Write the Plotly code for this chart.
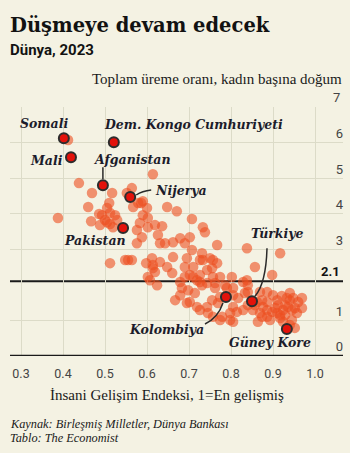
import plotly.graph_objects as go

# Human Development Index vs total fertility rate, 2023
hdi = [
    0.412, 0.614, 0.438, 0.469, 0.460, 0.510, 0.505, 0.493, 0.512, 0.524,
    0.486, 0.467, 0.388, 0.500, 0.529, 0.512, 0.564, 0.552, 0.517, 0.579,
    0.586, 0.590, 0.567, 0.600, 0.648, 0.671, 0.707, 0.590, 0.602, 0.505,
    0.519, 0.583, 0.619, 0.636, 0.602, 0.488, 0.576, 0.588, 0.626, 0.631,
    0.576, 0.733, 0.738, 0.662, 0.679, 0.702, 0.690, 0.643, 0.767, 0.707,
    0.731, 0.726, 0.750, 0.757, 0.767, 0.695, 0.710, 0.662, 0.690, 0.743,
    0.755, 0.512, 0.548, 0.555, 0.564, 0.612, 0.631, 0.614, 0.648, 0.660,
    0.619, 0.690, 0.702, 0.710, 0.726, 0.719, 0.757, 0.726, 0.731, 0.743,
    0.774, 0.762, 0.607, 0.624, 0.679, 0.683, 0.679, 0.667, 0.698, 0.714,
    0.702, 0.719, 0.743, 0.755, 0.769, 0.774, 0.762, 0.786, 0.805, 0.829,
    0.838, 0.840, 0.857, 0.838, 0.898, 0.917, 0.805, 0.817, 0.833, 0.840,
    0.869, 0.886, 0.900, 0.910, 0.912, 0.933, 0.940, 0.948, 0.960, 0.969,
    0.969, 0.952, 0.936, 0.924, 0.929, 0.917, 0.910, 0.898, 0.886, 0.876,
    0.869, 0.852, 0.829, 0.805, 0.798, 0.779, 0.798, 0.774, 0.814, 0.840,
    0.862, 0.886, 0.945, 0.952, 0.940, 0.917, 0.886, 0.745, 0.757, 0.726,
    0.614, 0.598, 0.602, 0.802, 0.790, 0.929, 0.905, 0.945, 0.957, 0.924,
    0.893, 0.874, 0.857, 0.874, 0.921, 0.940, 0.864, 0.805, 0.695, 0.733,
]
tfr = [
    6.07, 5.11, 4.86, 4.58, 4.19, 4.30, 4.16, 3.96, 4.02, 3.96,
    3.99, 3.79, 3.88, 3.82, 3.82, 3.71, 4.72, 4.58, 4.58, 4.30,
    4.30, 4.35, 4.19, 4.16, 4.19, 4.07, 3.85, 3.96, 3.88, 3.76,
    3.62, 3.74, 3.68, 3.65, 3.62, 3.68, 3.54, 3.34, 3.40, 3.17,
    3.17, 3.62, 3.48, 3.20, 3.31, 3.34, 3.17, 3.17, 3.12, 2.98,
    2.89, 2.70, 2.75, 2.70, 2.61, 2.75, 2.50, 2.78, 2.50, 2.42,
    2.47, 2.61, 2.70, 2.70, 2.70, 2.75, 2.64, 2.47, 2.50, 2.33,
    2.36, 2.22, 2.28, 2.22, 2.28, 2.13, 2.22, 2.08, 1.99, 2.05,
    2.22, 2.05, 2.13, 1.99, 2.08, 1.91, 1.71, 1.57, 1.85, 1.77,
    1.52, 1.38, 1.38, 1.57, 1.49, 1.66, 1.91, 1.99, 1.91, 2.08,
    2.13, 1.99, 2.50, 3.03, 2.28, 2.89, 1.71, 1.63, 1.77, 1.80,
    1.80, 1.80, 1.71, 1.57, 1.43, 1.63, 1.57, 1.63, 1.52, 1.63,
    1.35, 1.35, 1.38, 1.29, 1.15, 1.15, 1.21, 1.24, 1.29, 1.38,
    1.21, 1.29, 1.29, 1.38, 1.21, 1.10, 1.01, 1.01, 1.24, 1.43,
    1.52, 1.52, 1.01, 0.79, 0.87, 1.07, 1.10, 1.21, 1.10, 1.29,
    2.56, 2.61, 2.22, 2.22, 1.91, 1.43, 1.35, 1.29, 1.21, 0.96,
    1.01, 1.10, 1.43, 1.57, 1.69, 1.77, 0.96, 0.96, 1.49, 2.70,
]

# Named countries
names = ["Somali", "Dem. Kongo Cumhuriyeti", "Mali", "Afganistan", "Nijerya",
         "Pakistan", "Kolombiya", "Türkiye", "Güney Kore"]
names_hdi = [0.402, 0.521, 0.419, 0.495, 0.560, 0.543, 0.788, 0.850, 0.933]
names_tfr = [6.12, 6.01, 5.59, 4.80, 4.47, 3.60, 1.66, 1.54, 0.76]

# Axis ticks
x_ticks = [0.3, 0.4, 0.5, 0.6, 0.7, 0.8, 0.9, 1.0]
x_ticktext = ["0.3", "0.4", "0.5", "0.6", "0.7", "0.8", "0.9", "1.0"]
y_ticks = [0, 1, 3, 4, 5, 6, 7]
y_ticktext = ["0", "1", "3", "4", "5", "6", "7"]
replacement_rate = 2.1

BG = "#f4f2e3"
GRID = "#dcdbc8"
INK = "#1c1c2b"

# Label placement: (xanchor, xshift, yshift) in pixels relative to the point
label_place = {
    "Somali": ("center", -20, 15),
    "Dem. Kongo Cumhuriyeti": ("left", -12, 18),
    "Mali": ("right", -6, -3),
    "Afganistan": ("left", -11, 26),
    "Nijerya": ("left", 23, 7),
    "Pakistan": ("right", 5, -13),
    "Kolombiya": ("right", -20, -33),
    "Türkiye": ("center", 25, 68),
    "Güney Kore": ("center", -17, -14),
}
# Leader lines drawn in pixel offsets from the point (y up)
leaders = {
    "Afganistan": "M 0 6 L 0 18",
    "Nijerya": "M 6 2 Q 12 6 21 7",
    "Kolombiya": "M -3 -6 Q -8 -21 -21 -27",
    "Türkiye": "M 3 5 Q 14 18 15 53",
}

fig = go.Figure()

fig.add_trace(go.Scatter(
    x=hdi, y=tfr, mode="markers",
    marker=dict(size=10.5, color="rgb(236,78,32)", opacity=0.6, line=dict(width=0)),
    hoverinfo="skip", showlegend=False,
))
fig.add_trace(go.Scatter(
    x=names_hdi, y=names_tfr, mode="markers",
    marker=dict(size=10, color="#e3120b", line=dict(width=2, color="#2d2d2d")),
    text=names, hoverinfo="text", showlegend=False,
))

for n, hx, hy in zip(names, names_hdi, names_tfr):
    xa, xs, ys = label_place[n]
    fig.add_annotation(
        x=hx, y=hy, xref="x", yref="y", text=f"<b><i>{n}</i></b>",
        showarrow=False, xanchor=xa, yanchor="middle", xshift=xs, yshift=ys,
        font=dict(family="DejaVu Serif", size=12.5, color=INK),
    )
    if n in leaders:
        fig.add_shape(
            type="path", xref="x", yref="y", xsizemode="pixel", ysizemode="pixel",
            xanchor=hx, yanchor=hy, path=leaders[n],
            line=dict(color="#2a2a2a", width=1.5),
        )

# Replacement-rate line and baseline
fig.add_shape(type="line", xref="paper", yref="y", x0=0, x1=1,
              y0=replacement_rate, y1=replacement_rate,
              line=dict(color="#1a1a1a", width=2), layer="between")
fig.add_shape(type="line", xref="paper", yref="y", x0=0, x1=1, y0=0, y1=0,
              line=dict(color="#1a1a1a", width=2.5), layer="above")
fig.add_annotation(x=1, xref="paper", y=replacement_rate, yref="y",
                   text="<b>2.1</b>", showarrow=False, xanchor="right",
                   yanchor="bottom", xshift=-1, yshift=0,
                   font=dict(family="Roboto", size=13, color="#111"))
# Top y label sits above the plot frame, so it is placed as an annotation
fig.add_annotation(x=1, xref="paper", y=y_ticks[-1], yref="y",
                   text=y_ticktext[-1], showarrow=False, xanchor="right",
                   yanchor="bottom", xshift=-1, yshift=0,
                   font=dict(family="Roboto", size=13, color="#444"))

W, H = 350, 453
L, R, T, B = 10, 7, 107, 97
pw, ph = W - L - R, H - T - B


def px_x(p):
    return (p - L) / pw


def px_y(p):
    return (H - B - p) / ph


def note(text, xp, yp, xanchor, family, size, color="#1a1a1a"):
    fig.add_annotation(text=text, x=px_x(xp), y=px_y(yp), xref="paper", yref="paper",
                       showarrow=False, xanchor=xanchor, yanchor="middle",
                       font=dict(family=family, size=size, color=color))


# Titles and notes
note("<b>Düşmeye devam edecek</b>", 8, 26, "left", "DejaVu Serif", 19.5, "#121212")
note("<b>Dünya, 2023</b>", 8, 50, "left", "Roboto", 15, "#121212")
note("Toplam üreme oranı, kadın başına doğum", 344, 79, "right", "Liberation Serif", 15)
note("İnsani Gelişim Endeksi, 1=En gelişmiş", 167, 395, "center", "Liberation Serif", 15)
note("<i>Kaynak: Birleşmiş Milletler, Dünya Bankası</i>", 8, 424, "left", "Liberation Serif", 12.3)
note("<i>Tablo: The Economist</i>", 8, 438, "left", "Liberation Serif", 12.3)

fig.update_layout(
    width=W, height=H,
    margin=dict(l=L, r=R, t=T, b=B, pad=0),
    paper_bgcolor=BG, plot_bgcolor=BG,
    xaxis=dict(
        range=[0.3 - 11 / 420, 0.3 + 322 / 420], tickvals=x_ticks, ticktext=x_ticktext,
        showgrid=True, gridcolor=GRID, gridwidth=1, zeroline=False, showline=False,
        ticks="outside", ticklen=6, tickcolor="rgba(0,0,0,0)",
        tickfont=dict(family="Roboto", size=12.5, color="#444"),
        fixedrange=True,
    ),
    yaxis=dict(
        range=[0, 7], tickvals=y_ticks, ticktext=y_ticktext, side="right",
        ticklabelposition="inside top", ticklabelstandoff=-3,
        showgrid=True, gridcolor=GRID, gridwidth=1, zeroline=False, showline=False,
        tickfont=dict(family="Roboto", size=13, color="#444"),
        fixedrange=True,
    ),
)

fig.write_html("out.html")
